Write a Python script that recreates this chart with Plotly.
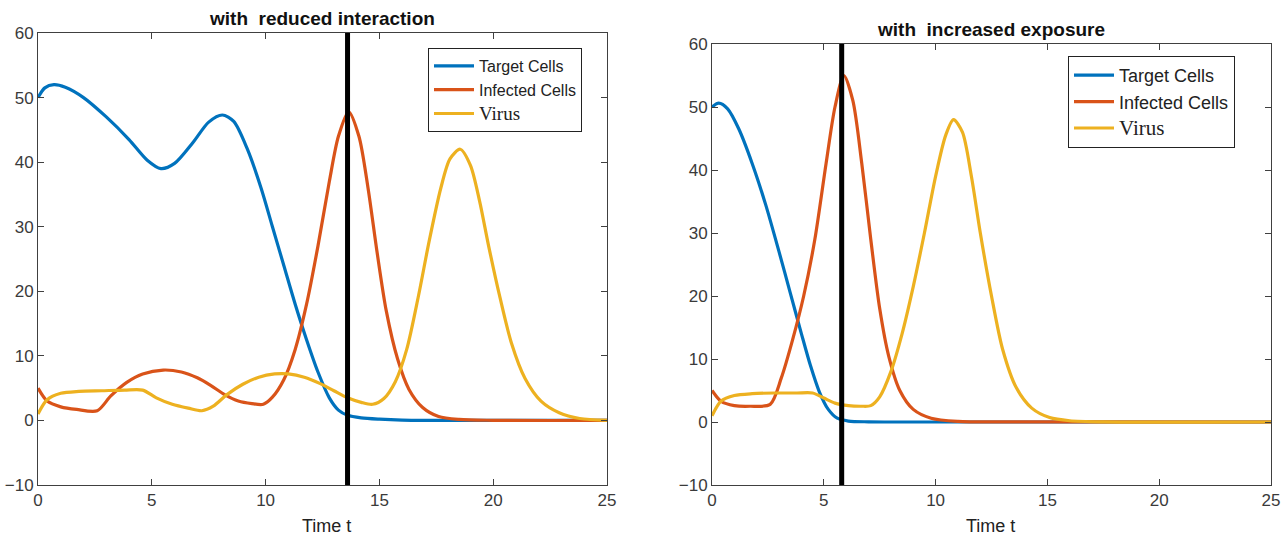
import plotly.graph_objects as go

# ---- Left panel: with reduced interaction ----
t_target_L = [0, 0.3, 0.7, 1.2, 2, 3, 4, 4.8, 5.4, 6, 6.8, 7.5, 8.1, 8.6, 9.2, 9.8, 10.3, 10.8, 11.3, 11.8, 12.3, 12.8, 13.2, 13.6, 14.2, 15, 16, 18, 25]
v_target_L = [50, 51.5, 52, 51.6, 50, 47, 43.5, 40.3, 39, 39.8, 43, 46.2, 47.3, 46.3, 42, 36, 30, 24, 18, 12.5, 7.5, 3.5, 1.6, 0.8, 0.4, 0.2, 0.06, 0.01, 0]

t_inf_L = [0, 0.4, 1, 1.7, 2.6, 3.2, 3.9, 4.6, 5.5, 6.3, 7, 7.6, 8.2, 8.8, 9.4, 9.9, 10.3, 10.8, 11.3, 11.8, 12.3, 12.8, 13.2, 13.65, 14.1, 14.5, 14.9, 15.3, 15.8, 16.3, 16.9, 17.6, 18.5, 20, 25]
v_inf_L = [5, 3, 2.1, 1.7, 1.5, 3.8, 5.9, 7.2, 7.8, 7.5, 6.6, 5.4, 4, 3, 2.6, 2.5, 3.6, 6.3, 11, 18, 27, 37, 44, 47.8, 44, 36, 26, 17, 9.5, 4.8, 2, 0.6, 0.15, 0.02, 0]

t_vir_L = [0, 0.4, 1, 1.8, 2.8, 3.8, 4.6, 5.2, 5.9, 6.6, 7.2, 7.7, 8.3, 9, 9.7, 10.4, 11, 11.7, 12.4, 13, 13.6, 14.2, 14.7, 15.2, 15.7, 16.2, 16.7, 17.2, 17.7, 18.1, 18.55, 19, 19.4, 19.8, 20.3, 20.8, 21.4, 22.1, 22.9, 23.8, 25]
v_vir_L = [1, 3.2, 4.2, 4.5, 4.6, 4.7, 4.7, 3.5, 2.5, 1.9, 1.5, 2.2, 4, 5.6, 6.7, 7.2, 7.2, 6.7, 5.7, 4.6, 3.5, 2.8, 2.5, 3.4, 6, 11, 19, 28, 36, 40.5, 42, 39.5, 34, 27, 19, 12, 6.5, 3, 1.2, 0.3, 0]

# ---- Right panel: with increased exposure ----
t_target_R = [0, 0.3, 0.7, 1.2, 1.8, 2.4, 3, 3.5, 4, 4.4, 4.8, 5.2, 5.6, 6.1, 7, 9, 25]
v_target_R = [50, 50.6, 49.7, 46.5, 41, 34.5, 27, 20.5, 14, 9, 4.8, 2, 0.6, 0.15, 0.03, 0, 0]

t_inf_R = [0, 0.4, 1, 1.7, 2.6, 3.1, 3.6, 4.1, 4.6, 5.1, 5.5, 5.9, 6.3, 6.7, 7.1, 7.5, 7.9, 8.4, 9, 9.8, 11, 13, 25]
v_inf_R = [5, 3.3, 2.6, 2.5, 2.8, 7, 13, 20, 29, 41, 50, 55, 51, 41, 29, 18, 10.5, 5, 2, 0.6, 0.1, 0.01, 0]

t_vir_R = [0, 0.4, 1, 1.8, 2.8, 3.8, 4.5, 5, 5.5, 6.1, 6.7, 7.1, 7.5, 8, 8.5, 9, 9.5, 10, 10.45, 10.8, 11.2, 11.6, 12, 12.5, 13, 13.6, 14.3, 15.1, 16, 17.5, 25]
v_vir_R = [1, 3.3, 4.2, 4.5, 4.6, 4.6, 4.6, 3.8, 3, 2.6, 2.5, 2.6, 4, 8, 14, 21.5, 30, 39, 45.5, 48, 46, 39, 30, 20, 11.5, 5.5, 2.2, 0.7, 0.2, 0.02, 0]

marker_L = 13.6
marker_R = 5.8

x_ticks = [0, 5, 10, 15, 20, 25]
y_ticks = [-10, 0, 10, 20, 30, 40, 50, 60]

titles = ["with  reduced interaction", "with  increased exposure"]
x_title = "Time t"
names_L = ["Target Cells", "Infected Cells",
           "<span style='font-family:\"Liberation Serif\", \"Times New Roman\"; font-size:19px'>Virus</span>"]
names_R = ["Target Cells", "Infected Cells",
           "<span style='font-family:\"Liberation Serif\", \"Times New Roman\"; font-size:21px'>Virus</span>"]
colors = ["#0072BD", "#D95319", "#EDB120"]

W, H = 1286, 536
def fx(px):
    return px / W
def fy(px):
    return 1 - px / H

fig = go.Figure()

panels = [
    (("x", "y", "legend"), names_L, [(t_target_L, v_target_L), (t_inf_L, v_inf_L), (t_vir_L, v_vir_L)]),
    (("x2", "y2", "legend2"), names_R, [(t_target_R, v_target_R), (t_inf_R, v_inf_R), (t_vir_R, v_vir_R)]),
]
for (xa, ya, lg), names, series in panels:
    for (tt, vv), nm, c in zip(series, names, colors):
        fig.add_trace(go.Scatter(
            x=tt, y=vv, name=nm, mode="lines", xaxis=xa, yaxis=ya, legend=lg,
            line=dict(color=c, width=3.2, shape="spline", smoothing=0.8),
            hoverinfo="skip"))

for xa, xv in [("x", marker_L), ("x2", marker_R)]:
    fig.add_shape(type="line", xref=xa, yref=("y domain" if xa == "x" else "y2 domain"),
                  x0=xv, x1=xv, y0=0, y1=1, line=dict(color="black", width=5))

axis_common = dict(
    showgrid=False, zeroline=False, showline=True, linecolor="#404040", linewidth=1,
    mirror="allticks", ticks="inside", ticklen=6, tickcolor="#404040",
    tickfont=dict(family="Liberation Sans, Arial", size=17, color="#3a3a3a"),
    automargin=False,
)

legend_common = dict(xanchor="left", yanchor="top", bgcolor="white",
                     bordercolor="#222222", borderwidth=1, tracegroupgap=0, itemwidth=40)

fig.update_layout(
    width=W, height=H,
    margin=dict(l=0, r=0, t=0, b=0),
    paper_bgcolor="white", plot_bgcolor="white",
    showlegend=True,
    xaxis=dict(domain=[fx(38), fx(607)], range=[0, 25], tickvals=x_ticks, anchor="y", **axis_common),
    yaxis=dict(domain=[fy(485), fy(33)], range=[-10, 60], tickvals=y_ticks, anchor="x", **axis_common),
    xaxis2=dict(domain=[fx(712), fx(1271)], range=[0, 25], tickvals=x_ticks, anchor="y2", **axis_common),
    yaxis2=dict(domain=[fy(485), fy(44)], range=[-10, 60], tickvals=y_ticks, anchor="x2", **axis_common),
    legend=dict(x=fx(428), y=fy(48),
                font=dict(family="Liberation Sans, Arial", size=16, color="#222222"),
                **legend_common),
    legend2=dict(x=fx(1068), y=fy(56),
                 font=dict(family="Liberation Sans, Arial", size=18, color="#222222"),
                 **legend_common),
    annotations=[
        dict(text="<b>" + titles[0] + "</b>", x=fx(322), y=fy(19), xref="paper", yref="paper",
             xanchor="center", yanchor="middle", showarrow=False,
             font=dict(family="Liberation Sans, Arial", size=19, color="#111111")),
        dict(text="<b>" + titles[1] + "</b>", x=fx(991), y=fy(30), xref="paper", yref="paper",
             xanchor="center", yanchor="middle", showarrow=False,
             font=dict(family="Liberation Sans, Arial", size=19, color="#111111")),
        dict(text=x_title, x=fx(326), y=fy(526), xref="paper", yref="paper",
             xanchor="center", yanchor="middle", showarrow=False,
             font=dict(family="Liberation Sans, Arial", size=18, color="#222222")),
        dict(text=x_title, x=fx(990), y=fy(526), xref="paper", yref="paper",
             xanchor="center", yanchor="middle", showarrow=False,
             font=dict(family="Liberation Sans, Arial", size=18, color="#222222")),
    ],
)

fig.write_html("out.html", config={"displayModeBar": False},
               post_script="document.body.style.margin='0';")
